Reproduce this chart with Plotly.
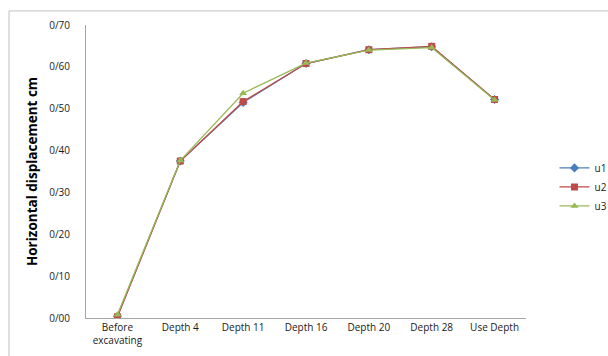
import plotly.graph_objects as go

# Excavation stages along the x axis
stages = ["Before<br>excavating", "Depth 4", "Depth 11", "Depth 16",
          "Depth 20", "Depth 28", "Use Depth"]

# Horizontal displacement (cm) per stage for each measuring point
u1 = [0.004, 0.375, 0.515, 0.608, 0.641, 0.648, 0.522]
u2 = [0.003, 0.375, 0.517, 0.608, 0.641, 0.649, 0.522]
u3 = [0.008, 0.376, 0.537, 0.609, 0.640, 0.646, 0.521]

# y axis labels are written with a slash as decimal separator
y_ticks = [0.0, 0.1, 0.2, 0.3, 0.4, 0.5, 0.6, 0.7]
y_tick_text = ["0/00", "0/10", "0/20", "0/30", "0/40", "0/50", "0/60", "0/70"]

series = [
    ("u1", u1, "#4A7EBB", "diamond", 7),
    ("u2", u2, "#BE4B48", "square", 7),
    ("u3", u3, "#98B954", "triangle-up", 7),
]

fig = go.Figure()
for name, vals, color, symbol, size in series:
    fig.add_trace(go.Scatter(
        x=stages, y=vals, name=name, mode="lines+markers",
        line=dict(color=color, width=1.3),
        marker=dict(symbol=symbol, size=size, color=color),
    ))

axis_font = dict(family="Open Sans", size=10, color="#1a1a1a")

fig.update_layout(
    width=608, height=356,
    margin=dict(l=86, r=82, t=25, b=38, autoexpand=False),
    paper_bgcolor="white", plot_bgcolor="white",
    font=dict(family="Open Sans", color="#1a1a1a"),
    showlegend=True,
    legend=dict(xref="container", yref="container",
                x=0.912, y=0.475, xanchor="left", yanchor="middle",
                font=dict(family="Open Sans", size=10, color="#1a1a1a"),
                bgcolor="rgba(0,0,0,0)", tracegroupgap=0, itemwidth=30),
    xaxis=dict(
        type="category", showgrid=False, zeroline=False,
        showline=True, linecolor="#A6A6A6", linewidth=1,
        ticks="", tickfont=axis_font, range=[-0.5, 6.5],
    ),
    yaxis=dict(
        range=[0, 0.70], tickvals=y_ticks, ticktext=y_tick_text,
        showgrid=False, zeroline=False,
        showline=True, linecolor="#A6A6A6", linewidth=1,
        ticks="", tickfont=axis_font, ticklabelstandoff=13,
        title=dict(text="Horizontal displacement cm",
                   font=dict(family="Open Sans", size=13.5, color="#000000",
                             weight="bold"),
                   standoff=8),
    ),
    shapes=[dict(type="rect", xref="paper", yref="paper",
                 x0=-0.175, x1=1.3, y0=-0.2, y1=1.048,
                 line=dict(color="#BFBFBF", width=1), layer="below")],
)

fig.write_html("out.html")
